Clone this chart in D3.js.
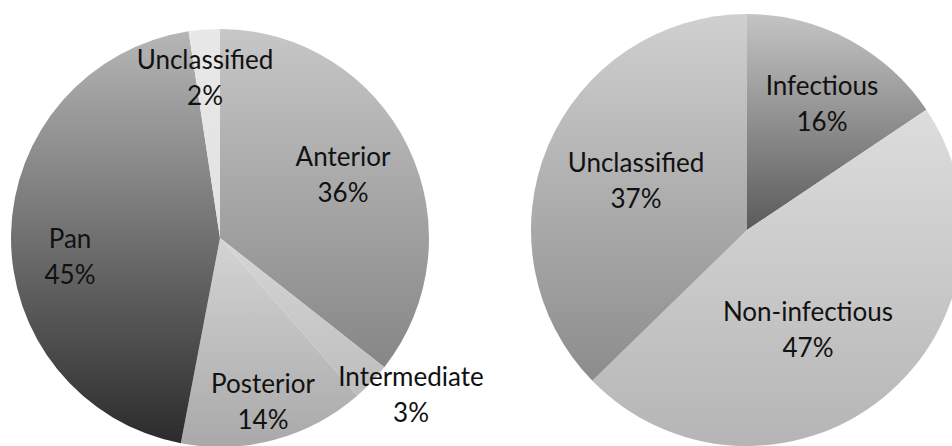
<!DOCTYPE html>
<html>
<head>
<meta charset="utf-8">
<script src="https://cdn.jsdelivr.net/npm/d3@7"></script>
<style>
  html, body { margin: 0; padding: 0; background: #ffffff; }
  svg { display: block; }
  text { font-family: Lato, "Open Sans", sans-serif; fill: #111; }
</style>
</head>
<body>
<svg id="chart" width="952" height="446"></svg>
<script>
// ---- Data ----
const locationCategories = ["Anterior", "Intermediate", "Posterior", "Pan", "Unclassified"];
const locationValues     = [35.6, 3.0, 14.4, 44.6, 2.4];

const etiologyCategories = ["Infectious", "Non-infectious", "Unclassified"];
const etiologyValues     = [15.6, 47.1, 37.3];

// ---- Styles (gradient top/bottom per slice) ----
const locationColors = [
  ["#c7c7c7", "#868686"],
  ["#d6d6d6", "#bdbdbd"],
  ["#d4d4d4", "#a9a9a9"],
  ["#b6b6b6", "#2b2b2b"],
  ["#e8e8e8", "#e2e2e2"]
];
const etiologyColors = [
  ["#c4c4c4", "#5a5a5a"],
  ["#dddddd", "#b5b5b5"],
  ["#d0d0d0", "#8c8c8c"]
];

// label anchor positions relative to pie center (center of text block: [dx, baseline of first line])
const locationLabelPos = [[123, -72], [191, 148], [43, 155], [-150, 10], [-15, -169]];
const etiologyLabelPos = [[75, -135], [61, 91], [-111, -58]];

const svg = d3.select("#chart");
const defs = svg.append("defs");
const fmt = d3.format(".0f");

function drawPie(id, cx, cy, r, cats, vals, colors, labelPos) {
  const total = d3.sum(vals);
  const data = cats.map((c, i) => ({ cat: c, value: vals[i], i }));
  const pie = d3.pie().sort(null).value(d => d.value);
  const arc = d3.arc().innerRadius(0).outerRadius(r);
  const arcs = pie(data);

  colors.forEach((c, i) => {
    const g = defs.append("linearGradient")
      .attr("id", `${id}-g${i}`)
      .attr("x1", 0).attr("y1", 0).attr("x2", 0).attr("y2", 1);
    g.append("stop").attr("offset", "0%").attr("stop-color", c[0]);
    g.append("stop").attr("offset", "100%").attr("stop-color", c[1]);
  });

  const g = svg.append("g").attr("transform", `translate(${cx},${cy})`);
  g.selectAll("path")
    .data(arcs)
    .join("path")
    .attr("d", arc)
    .attr("fill", d => `url(#${id}-g${d.data.i})`);

  const lab = g.selectAll("text.lab")
    .data(arcs)
    .join("text")
    .attr("class", "lab")
    .attr("text-anchor", "middle")
    .attr("font-size", 26)
    .attr("transform", d => `translate(${labelPos[d.data.i][0]},${labelPos[d.data.i][1]})`);
  lab.append("tspan").attr("x", 0).attr("y", 0).text(d => d.data.cat);
  lab.append("tspan").attr("x", 0).attr("y", 36)
    .text(d => fmt(d.data.value / total * 100) + "%");
}

drawPie("loc", 220, 238, 209, locationCategories, locationValues, locationColors, locationLabelPos);
drawPie("eti", 747, 230, 216, etiologyCategories, etiologyValues, etiologyColors, etiologyLabelPos);
</script>
</body>
</html>
